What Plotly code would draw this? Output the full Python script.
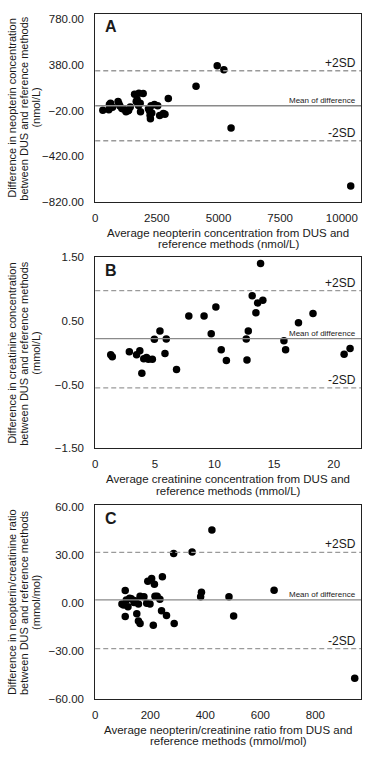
import plotly.graph_objects as go

# Panel A: neopterin (nmol/L)
neo_avg = [308, 550, 575, 620, 700, 925, 960, 1000, 1080, 1150, 1247, 1330, 1354, 1420,
           1595, 1662, 1700, 1756, 1769, 1823, 1836, 1944, 2159, 2200, 2224, 2238, 2264,
           2292, 2400, 2533, 2614, 2762, 2827, 2963, 4088, 4946, 5215, 5509, 10361]
neo_diff = [-17, -11, 34, 45, 10, 60, 40, 20, 0, -5, -29, -20, -17, 12,
            123, 60, 75, 26, 132, 45, -29, 131, -3, -20, -60, -91, 23,
            -40, 34, 23, -63, -46, -52, 86, 195, 373, 339, -172, -682]
neo_lines = [23, 330, -284]  # mean, +2SD, -2SD

# Panel B: creatinine (mmol/L)
cre_avg = [1.30, 1.43, 2.86, 3.47, 3.74, 3.91, 4.07, 4.30, 4.46, 4.79, 4.96, 5.43, 5.85,
           5.96, 6.82, 7.85, 9.13, 9.73, 10.12, 10.57, 11.0, 12.67, 12.73, 12.84, 13.17,
           13.48, 13.62, 13.87, 14.06, 15.83, 15.97, 17.05, 18.27, 20.88, 21.38]
cre_diff = [-0.03, -0.06, 0.02, -0.03, 0.035, -0.32, -0.09, -0.07, -0.10, -0.10, 0.216,
            0.345, -0.01, 0.22, -0.26, 0.58, 0.58, 0.30, 0.72, 0.05, -0.12, 0.22, -0.11,
            0.345, 0.90, 0.63, 0.785, 1.405, 0.826, 0.19, 0.05, 0.475, 0.62, -0.02, 0.07]
cre_lines = [0.225, 0.98, -0.55]

# Panel C: neopterin/creatinine ratio (mmol/mol)
rat_avg = [424, 285, 352, 244, 205, 191, 215, 225, 235, 109, 131, 163, 177, 187, 199,
           97, 103, 119, 141, 157, 217, 241, 259, 151, 109, 157, 163, 211, 287, 383,
           386, 486, 503, 650, 943, 125, 145, 113]
rat_diff = [45.8, 31.1, 32.1, 16.5, 15.5, 13.7, 11.9, 4.4, 2.4, 7.9, 2.8, 4.4, 4.0, 0.0,
            -0.6, -0.6, -1.2, -2.2, 0.4, -0.6, 4.4, -4.7, -7.7, -6.7, -8.3, -11.2, -12.7,
            -13.8, -12.7, 4.0, 6.8, 4.0, -8.1, 8.1, -47.1, 3.0, 1.5, 2.0]
rat_lines = [2.0, 31.8, -28.5]

line_labels = ["Mean of difference", "+2SD", "-2SD"]

W, H = 367, 760
FONT = "Liberation Sans, Arial, sans-serif"
INK = "#1a1a1a"


def px(x):
    return x / W


def py(y):
    return 1 - y / H


panels = [
    dict(letter="A", x=neo_avg, y=neo_diff, lines=neo_lines, top=8, bottom=199,
         xrange=[0, 10780], yrange=[-820, 829],
         xticks=[0, 2500, 5000, 7500, 10000], yticks=[-820, -420, -20, 380, 780],
         ytitle=["Difference in neopterin concentration",
                 "between DUS and reference methods", "(nmol/L)"],
         xtitle=["Average neopterin concentration from DUS and",
                 "reference methods (nmol/L)"]),
    dict(letter="B", x=cre_avg, y=cre_diff, lines=cre_lines, top=255.5, bottom=449.5,
         xrange=[0, 22.3], yrange=[-1.5, 1.5],
         xticks=[0, 5, 10, 15, 20], yticks=[-1.5, -0.5, 0.5, 1.5],
         ytitle=["Difference in creatinine concentration",
                 "between DUS and reference methods", "(mmol/L)"],
         xtitle=["Average creatinine concentration from DUS and",
                 "reference methods (mmol/L)"]),
    dict(letter="C", x=rat_avg, y=rat_diff, lines=rat_lines, top=507.5, bottom=704,
         xrange=[0, 966], yrange=[-60, 61.2],
         xticks=[0, 200, 400, 600, 800], yticks=[-60, -30, 0, 30, 60],
         ytitle=["Difference in neopterin/creatinine ratio",
                 "between DUS and reference methods", "(mmol/mol)"],
         xtitle=["Average neopterin/creatinine ratio from DUS and",
                 "reference methods (mmol/mol)"]),
]

fig = go.Figure()
layout = {}
annotations = []
shapes = []

for i, p in enumerate(panels, start=1):
    sfx = "" if i == 1 else str(i)
    xa, ya = "x" + sfx, "y" + sfx

    fig.add_trace(go.Scatter(x=p["x"], y=p["y"], mode="markers", xaxis=xa, yaxis=ya,
                             marker=dict(color="black", size=7.5), showlegend=False))

    axis_common = dict(showline=True, linecolor="#222", linewidth=1, mirror=True,
                       showgrid=False, zeroline=False, ticks="",
                       tickfont=dict(size=11.5, color=INK, family=FONT))
    layout["xaxis" + sfx] = dict(axis_common, domain=[px(93), px(361)], anchor=ya,
                                 range=p["xrange"], tickvals=p["xticks"], tickformat="d",
                                 ticklabelstandoff=5)
    layout["yaxis" + sfx] = dict(axis_common, domain=[py(p["bottom"]), py(p["top"])],
                                 anchor=xa, range=p["yrange"], tickvals=p["yticks"],
                                 tickformat=".2f", ticklabelstandoff=8)

    # mean and +/-2SD lines
    for k, (val, lab) in enumerate(zip(p["lines"], line_labels)):
        shapes.append(dict(type="line", xref=xa + " domain", yref=ya, x0=0, x1=1,
                           y0=val, y1=val,
                           line=dict(color="#8a8a8a" if k == 0 else "#9a9a9a",
                                     width=1.3,
                                     dash="solid" if k == 0 else "5px,3px")))
        annotations.append(dict(xref=xa + " domain", yref=ya, x=0.99, y=val,
                                xanchor="right", yanchor="bottom", showarrow=False,
                                text=lab, yshift=-1,
                                font=dict(size=8 if k == 0 else 12, color=INK,
                                          family=FONT)))

    # panel letter
    annotations.append(dict(xref="paper", yref="paper", x=px(109),
                            y=py(p["top"] + 13), xanchor="center", yanchor="middle",
                            showarrow=False, text="<b>%s</b>" % p["letter"],
                            font=dict(size=16, color=INK, family=FONT)))

    # y title, three rotated lines
    mid = (p["top"] + p["bottom"]) / 2
    for xpos, txt in zip([9, 21, 33], p["ytitle"]):
        annotations.append(dict(xref="paper", yref="paper", x=px(xpos), y=py(mid),
                                xanchor="center", yanchor="middle", textangle=-90,
                                showarrow=False, text=txt,
                                font=dict(size=11, color=INK, family=FONT)))

    # x title, two lines
    for off, txt in zip([31.5, 43], p["xtitle"]):
        annotations.append(dict(xref="paper", yref="paper", x=px(227),
                                y=py(p["bottom"] + off), xanchor="center",
                                yanchor="middle", showarrow=False, text=txt,
                                font=dict(size=11.5, color=INK, family=FONT)))

fig.update_layout(**layout)
fig.update_layout(
    width=W, height=H,
    margin=dict(l=0, r=0, t=0, b=0),
    paper_bgcolor="white", plot_bgcolor="white",
    font=dict(family=FONT, color=INK),
    annotations=annotations, shapes=shapes,
)

fig.write_html("out.html",
               config={"displayModeBar": False},
               post_script="document.body.style.margin='0';"
                           "document.body.style.overflow='hidden';")
